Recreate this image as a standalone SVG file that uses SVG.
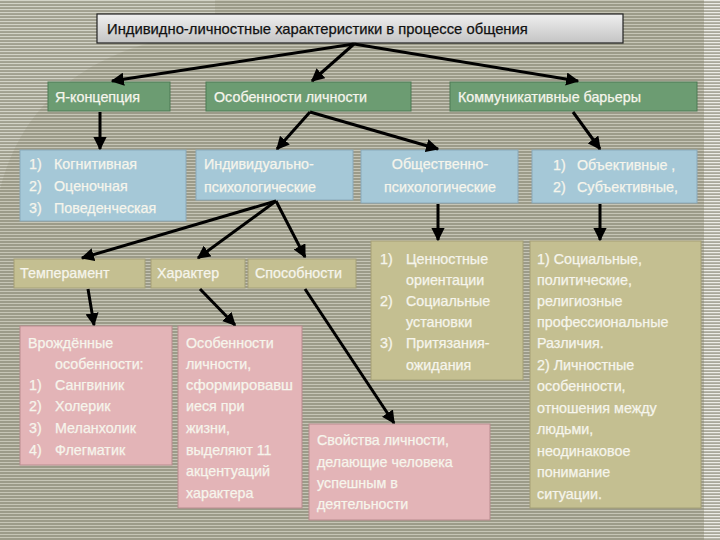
<svg xmlns="http://www.w3.org/2000/svg" width="720" height="540" viewBox="0 0 720 540">
<defs>
<pattern id="stripes" width="4" height="3" patternUnits="userSpaceOnUse">
<rect width="4" height="3" fill="#9c9b89"/>
<rect y="0" width="4" height="1" fill="#c6c5b6"/>
</pattern>
<pattern id="stripesLight" width="4" height="3" patternUnits="userSpaceOnUse">
<rect width="4" height="3" fill="#a9a89a"/>
<rect y="0" width="4" height="1.2" fill="#ecece6"/>
</pattern>
<linearGradient id="titleGrad" x1="0" y1="0" x2="0" y2="1">
<stop offset="0" stop-color="#efefef"/>
<stop offset="1" stop-color="#c4c4c4"/>
</linearGradient>
<marker id="arr" viewBox="0 0 10 10" refX="9" refY="5" markerWidth="4.4" markerHeight="4.4" orient="auto" markerUnits="strokeWidth">
<path d="M0,0 L10,5 L0,10 z" fill="#000"/>
</marker>
</defs>
<style>
text{font-family:"Liberation Sans",Arial,sans-serif;font-size:14.3px;fill:#f6f5ec;stroke:#f6f5ec;stroke-width:0.25}
.title{fill:#111;stroke:#111;font-size:14.8px}
.green{fill:#6c9c72;stroke:#4d7a55;stroke-width:1}
.blue{fill:#a5c8d7;stroke:#8aaabb;stroke-width:1}
.tan{fill:#c4bf91;stroke:#a5a076;stroke-width:1}
.pink{fill:#e3b4b7;stroke:#b98c8f;stroke-width:1}
.conn line{stroke:#000;stroke-width:3;marker-end:url(#arr)}
</style>
<rect width="720" height="540" fill="url(#stripes)"/>
<rect x="704" y="0" width="16" height="540" fill="url(#stripesLight)"/>
<path d="M0,0 L0,190 C20,110 80,45 215,30 L215,0 Z" fill="url(#stripesLight)" opacity="0.35"/>

<g id="title">
<rect x="97" y="14" width="526" height="29" fill="url(#titleGrad)" stroke="#222" stroke-width="1.2"/>
<text class="title" x="107" y="34">Индивидно-личностные характеристики в процессе общения</text>
</g>

<g id="ya-koncepciya">
<rect class="green" x="48" y="82" width="122" height="29"/>
<text x="55" y="102">Я-концепция</text>
</g>
<g id="osobennosti-lichnosti">
<rect class="green" x="206" y="82" width="205" height="29"/>
<text x="214" y="102">Особенности личности</text>
</g>
<g id="kommunikativnye-barery">
<rect class="green" x="450" y="82" width="247" height="29"/>
<text x="458" y="102">Коммуникативные барьеры</text>
</g>

<g id="kognitivnaya">
<rect class="blue" x="20" y="150" width="166" height="71"/>
<text x="29" y="169">1)</text><text x="54" y="169">Когнитивная</text>
<text x="29" y="191">2)</text><text x="54" y="191">Оценочная</text>
<text x="29" y="213">3)</text><text x="54" y="213">Поведенческая</text>
</g>
<g id="individualno">
<rect class="blue" x="196" y="150" width="157" height="50"/>
<text x="204" y="169">Индивидуально-</text>
<text x="204" y="192">психологические</text>
</g>
<g id="obshchestvenno">
<rect class="blue" x="361" y="150" width="157" height="53"/>
<text x="440" y="169" text-anchor="middle">Общественно-</text>
<text x="440" y="192" text-anchor="middle">психологические</text>
</g>
<g id="obektivnye">
<rect class="blue" x="532" y="150" width="165" height="53"/>
<text x="553" y="170">1)</text><text x="577" y="170">Объективные ,</text>
<text x="553" y="192">2)</text><text x="577" y="192">Субъективные,</text>
</g>

<g id="temperament">
<rect class="tan" x="14" y="259" width="131" height="29"/>
<text x="20" y="278">Темперамент</text>
</g>
<g id="harakter">
<rect class="tan" x="151" y="259" width="94" height="29"/>
<text x="157" y="278">Характер</text>
</g>
<g id="sposobnosti">
<rect class="tan" x="248" y="259" width="108" height="29"/>
<text x="255" y="278">Способности</text>
</g>
<g id="cennostnye">
<rect class="tan" x="371" y="241" width="152" height="139"/>
<text x="380" y="264">1)</text><text x="406" y="264">Ценностные</text>
<text x="406" y="285">ориентации</text>
<text x="380" y="306">2)</text><text x="406" y="306">Социальные</text>
<text x="406" y="327">установки</text>
<text x="380" y="348">3)</text><text x="406" y="348">Притязания-</text>
<text x="406" y="370">ожидания</text>
</g>
<g id="socialnye">
<rect class="tan" x="530" y="241" width="171" height="267"/>
<text x="537" y="264">1) Социальные,</text>
<text x="537" y="285">политические,</text>
<text x="537" y="306">религиозные</text>
<text x="537" y="327">профессиональные</text>
<text x="537" y="348">Различия.</text>
<text x="537" y="370">2) Личностные</text>
<text x="537" y="391">особенности,</text>
<text x="537" y="413">отношения между</text>
<text x="537" y="434">людьми,</text>
<text x="537" y="456">неодинаковое</text>
<text x="537" y="477">понимание</text>
<text x="537" y="499">ситуации.</text>
</g>

<g id="vrozhdennye">
<rect class="pink" x="20" y="326" width="152" height="139"/>
<text x="28" y="348">Врождённые</text>
<text x="55" y="369">особенности:</text>
<text x="29" y="390">1)</text><text x="55" y="390">Сангвиник</text>
<text x="29" y="411">2)</text><text x="55" y="411">Холерик</text>
<text x="29" y="433">3)</text><text x="55" y="433">Меланхолик</text>
<text x="29" y="455">4)</text><text x="55" y="455">Флегматик</text>
</g>
<g id="osobennosti-sformirovavshiesya">
<rect class="pink" x="178" y="326" width="124" height="182"/>
<text x="186" y="348">Особенности</text>
<text x="186" y="369">личности,</text>
<text x="186" y="390" textLength="107" lengthAdjust="spacingAndGlyphs">сформировавш</text>
<text x="186" y="411">иеся при</text>
<text x="186" y="433">жизни,</text>
<text x="186" y="455">выделяют 11</text>
<text x="186" y="476">акцентуаций</text>
<text x="186" y="498">характера</text>
</g>
<g id="svoystva">
<rect class="pink" x="309" y="424" width="181" height="96"/>
<text x="317" y="445">Свойства личности,</text>
<text x="317" y="467">делающие человека</text>
<text x="317" y="488">успешным в</text>
<text x="317" y="509">деятельности</text>
</g>

<g id="connectors" class="conn">
<line x1="354" y1="44" x2="112" y2="81"/>
<line x1="354" y1="44" x2="312" y2="81"/>
<line x1="354" y1="44" x2="578" y2="81"/>
<line x1="100" y1="112" x2="100" y2="149"/>
<line x1="310" y1="112" x2="277" y2="149"/>
<line x1="310" y1="112" x2="438" y2="149"/>
<line x1="573" y1="112" x2="600" y2="149"/>
<line x1="276" y1="201" x2="82" y2="258"/>
<line x1="276" y1="201" x2="198" y2="258"/>
<line x1="276" y1="201" x2="305" y2="257"/>
<line x1="438" y1="204" x2="438" y2="240"/>
<line x1="600" y1="204" x2="600" y2="240"/>
<line x1="88" y1="289" x2="94" y2="325"/>
<line x1="200" y1="289" x2="235" y2="325"/>
<line x1="305" y1="289" x2="394" y2="423"/>
</g>
</svg>
